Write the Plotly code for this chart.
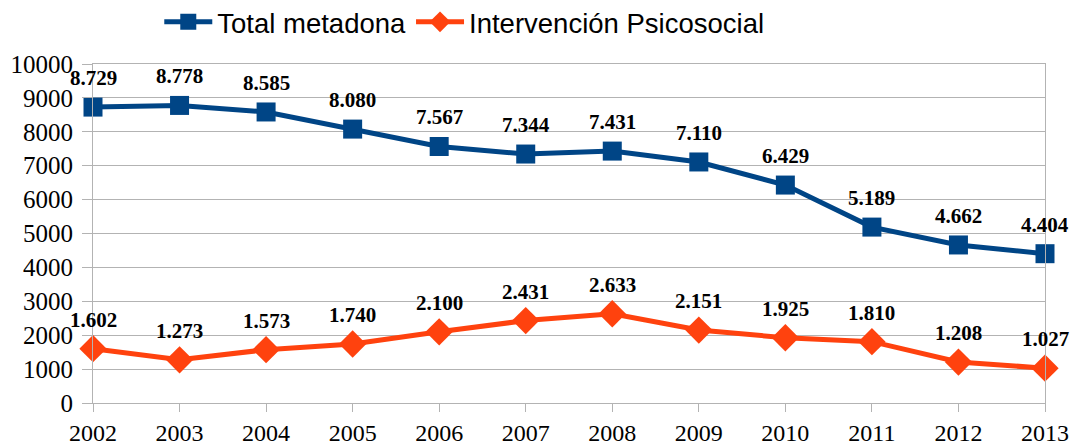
import plotly.graph_objects as go

years = [2002, 2003, 2004, 2005, 2006, 2007, 2008, 2009, 2010, 2011, 2012, 2013]
total_metadona = [8729, 8778, 8585, 8080, 7567, 7344, 7431, 7110, 6429, 5189, 4662, 4404]
intervencion = [1602, 1273, 1573, 1740, 2100, 2431, 2633, 2151, 1925, 1810, 1208, 1027]
series_names = ["Total metadona", "Intervención Psicosocial"]
y_ticks = list(range(0, 10001, 1000))


def fmt(v):
    return f"{v:,}".replace(",", ".")


label_font = dict(family="Liberation Serif", size=21, color="black")

fig = go.Figure()
fig.add_trace(go.Scatter(
    x=years, y=total_metadona, name=series_names[0],
    mode="lines+markers",
    line=dict(color="#004586", width=5),
    marker=dict(symbol="square", size=19, color="#004586"),
    cliponaxis=False,
))
fig.add_trace(go.Scatter(
    x=years, y=intervencion, name=series_names[1],
    mode="lines+markers",
    line=dict(color="#ff420e", width=5),
    marker=dict(symbol="diamond", size=21, color="#ff420e"),
    cliponaxis=False,
))

for series in (total_metadona, intervencion):
    for x, v in zip(years, series):
        fig.add_annotation(x=x, y=v, text="<b>" + fmt(v) + "</b>", showarrow=False,
                           yshift=29, font=label_font, xanchor="center", yanchor="middle")

fig.update_layout(
    width=1071, height=447,
    margin=dict(l=93, r=26, t=64, b=44, autoexpand=False),
    paper_bgcolor="white", plot_bgcolor="white",
    showlegend=True,
    legend=dict(orientation="h", x=0.39, xanchor="center", y=1.124, yanchor="middle",
                font=dict(family="Liberation Sans", size=27.5, color="black"),
                itemwidth=48, traceorder="normal"),
    xaxis=dict(range=[2002, 2013], tickmode="array", tickvals=years,
               ticktext=[str(y) for y in years],
               showgrid=False, showline=True, linecolor="#b3b3b3", mirror=True,
               ticks="outside", ticklen=8, tickcolor="#b3b3b3",
               tickfont=dict(family="Liberation Serif", size=24, color="black"),
               zeroline=False),
    yaxis=dict(range=[0, 10000], tickmode="array", tickvals=y_ticks,
               ticktext=[str(t) for t in y_ticks],
               showgrid=True, gridcolor="#b3b3b3", gridwidth=1,
               showline=True, linecolor="#b3b3b3", mirror=True,
               ticks="outside", ticklen=10, tickcolor="#b3b3b3",
               ticklabelstandoff=4,
               tickfont=dict(family="Liberation Serif", size=25, color="black"),
               zeroline=False),
)

fig.write_html("out.html", config={"displayModeBar": False},
               post_script="document.body.style.margin='0';document.body.style.overflow='hidden';")
